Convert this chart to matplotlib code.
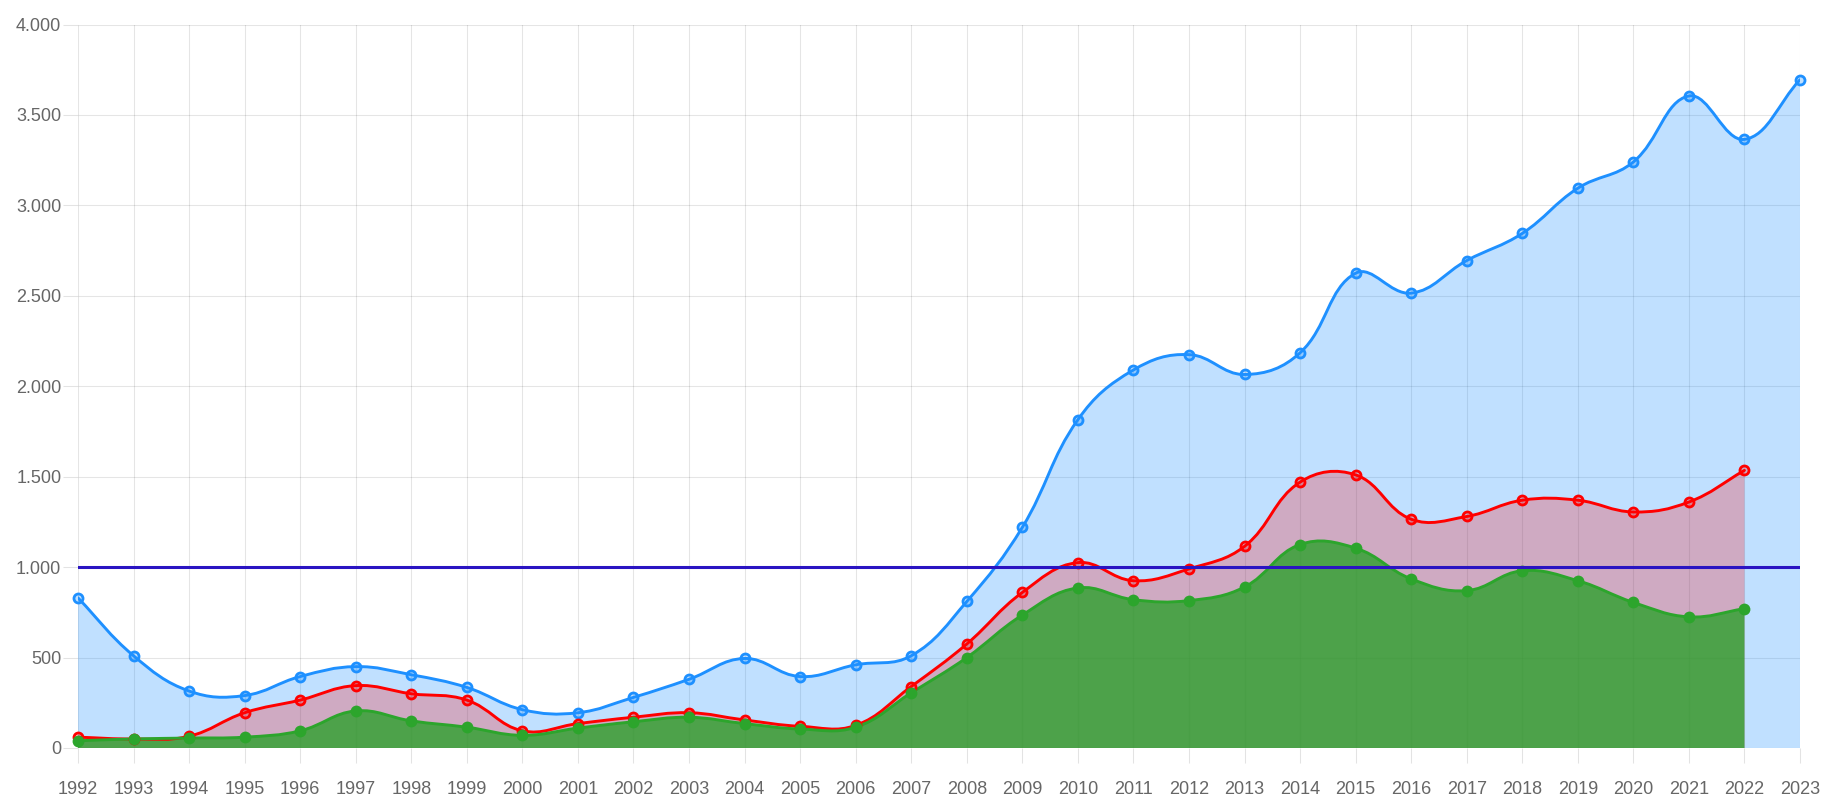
import numpy as np
import matplotlib
matplotlib.use("Agg")
import matplotlib.pyplot as plt
from matplotlib.path import Path
from matplotlib.patches import PathPatch
from matplotlib.ticker import FuncFormatter

plt.rcParams['font.family'] = ['Liberation Sans', 'DejaVu Sans']

years = list(range(1992, 2024))
blue_vals = [830, 510, 315, 290, 395, 450, 405, 335, 212, 195, 280, 380, 495, 395, 460, 510,
             810, 1220, 1815, 2090, 2175, 2065, 2185, 2625, 2515, 2695, 2845, 3095, 3240, 3605, 3365, 3695]
red_years = list(range(1992, 2023))
red_vals = [60, 50, 65, 195, 265, 345, 300, 265, 95, 135, 170, 195, 155, 120, 125, 340,
            575, 860, 1025, 925, 990, 1115, 1470, 1510, 1265, 1280, 1370, 1370, 1305, 1360, 1535]
green_years = list(range(1992, 2023))
green_vals = [40, 50, 55, 60, 95, 205, 150, 115, 70, 110, 145, 170, 135, 105, 115, 305,
              500, 735, 885, 820, 815, 890, 1125, 1105, 935, 870, 980, 925, 805, 725, 770]
threshold = 1000
y_ticks = [0, 500, 1000, 1500, 2000, 2500, 3000, 3500, 4000]

W, H = 1827, 797
fig = plt.figure(figsize=(W / 100, H / 100), dpi=100)
L, R, T, B = 78, 1800, 24.5, 748
ax = fig.add_axes([L / W, 1 - B / H, (R - L) / W, (B - T) / H])
ax.set_xlim(years[0], years[-1])
ax.set_ylim(0, 4000)
for s in ax.spines.values():
    s.set_visible(False)

ax.set_xticks(years)
ax.set_xticklabels([str(y) for y in years])
ax.set_yticks(y_ticks)
ax.yaxis.set_major_formatter(FuncFormatter(lambda v, p: f"{int(v):,}".replace(",", ".")))
ax.tick_params(axis='both', length=11, width=0.75, color='#e3e3e3', labelcolor='#666666', labelsize=13)
ax.tick_params(axis='y', pad=1)
ax.tick_params(axis='x', pad=13)
ax.grid(True, color='black', alpha=0.1, linewidth=0.75)
ax.set_axisbelow(True)


def spline(xs, ys, t=0.4):
    pts = ax.transData.transform(np.column_stack([xs, ys]).astype(float))
    n = len(pts)
    cpp = np.zeros_like(pts)
    cpn = np.zeros_like(pts)
    for i in range(n):
        prev = pts[max(i - 1, 0)]
        cur = pts[i]
        nxt = pts[min(i + 1, n - 1)]
        d01 = np.hypot(*(cur - prev))
        d12 = np.hypot(*(nxt - cur))
        tot = d01 + d12
        s01 = d01 / tot if tot else 0
        s12 = d12 / tot if tot else 0
        cpp[i] = cur - t * s01 * (nxt - prev)
        cpn[i] = cur + t * s12 * (nxt - prev)
    y0, y1 = ax.transData.transform([[0, 0], [0, 4000]])[:, 1]
    lo, hi = min(y0, y1), max(y0, y1)
    cpp[:, 1] = np.clip(cpp[:, 1], lo, hi)
    cpn[:, 1] = np.clip(cpn[:, 1], lo, hi)
    verts = [pts[0]]
    codes = [Path.MOVETO]
    for i in range(n - 1):
        verts += [cpn[i], cpp[i + 1], pts[i + 1]]
        codes += [Path.CURVE4] * 3
    inv = ax.transData.inverted()
    return inv.transform(np.array(verts)), codes


series = [
    (years, blue_vals, (30 / 255, 144 / 255, 1.0), 0.28, 'hollow'),
    (red_years, red_vals, (1.0, 0.0, 0.0), 0.24, 'hollow'),
    (green_years, green_vals, (40 / 255, 160 / 255, 40 / 255), 0.78, 'solid'),
]

for xs, ys, col, a, _ in series:
    v, c = spline(xs, ys)
    fv = np.vstack([v, [[xs[-1], 0], [xs[0], 0], [xs[0], ys[0]]]])
    fc = list(c) + [Path.LINETO, Path.LINETO, Path.CLOSEPOLY]
    ax.add_patch(PathPatch(Path(fv, fc), facecolor=(*col, a), edgecolor='none', zorder=2))

for xs, ys, col, a, mk in series:
    v, c = spline(xs, ys)
    lc = col if mk == 'hollow' else (44 / 255, 165 / 255, 44 / 255)
    ax.add_patch(PathPatch(Path(v, c), facecolor='none', edgecolor=lc, linewidth=2.1,
                           zorder=3, capstyle='round', joinstyle='round'))
    if mk == 'hollow':
        ax.plot(xs, ys, linestyle='none', marker='o', markersize=6.5, markeredgewidth=2.0,
                markeredgecolor=col, markerfacecolor=(*col, a), zorder=4, clip_on=False)
    else:
        ax.plot(xs, ys, linestyle='none', marker='o', markersize=8.5, markeredgewidth=0,
                markerfacecolor=lc, zorder=4, clip_on=False)

ax.plot([years[0], years[-1]], [threshold, threshold], color='#2a14c2', linewidth=2.2, zorder=5)

fig.savefig("out.png", dpi=100)
